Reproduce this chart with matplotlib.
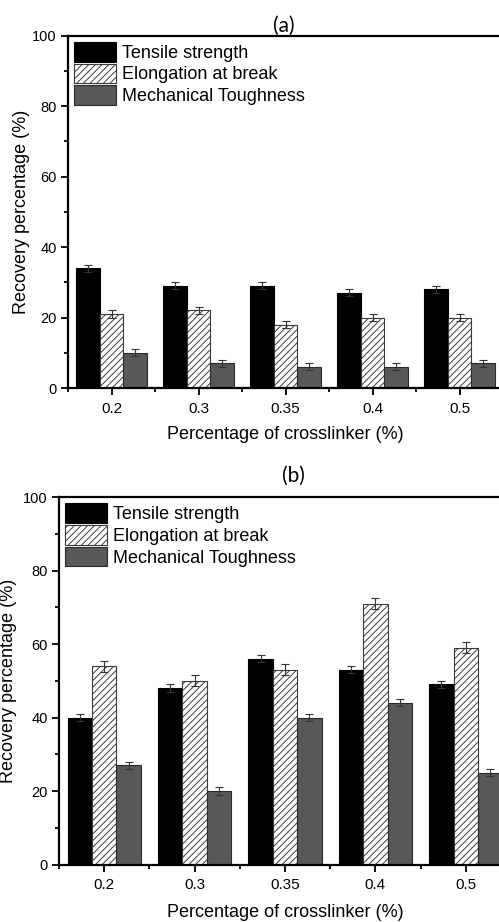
import numpy as np
import matplotlib
matplotlib.use("Agg")
import matplotlib.pyplot as plt
from matplotlib.ticker import MultipleLocator, FixedLocator

plt.rcParams['font.family'] = ['Liberation Sans', 'DejaVu Sans']
plt.rcParams['hatch.linewidth'] = 0.7

categories = ["0.2", "0.3", "0.35", "0.4", "0.5"]
series_names = ["Tensile strength", "Elongation at break", "Mechanical Toughness"]

# panel (a)
a_tensile = [34, 29, 29, 27, 28]
a_elong = [21, 22, 18, 20, 20]
a_tough = [10, 7, 6, 6, 7]
a_tensile_err = [1, 1, 1, 1, 1]
a_elong_err = [1, 1, 1, 1, 1]
a_tough_err = [1, 1, 1, 1, 1]

# panel (b)
b_tensile = [40, 48, 56, 53, 49]
b_elong = [54, 50, 53, 71, 59]
b_tough = [27, 20, 40, 44, 25]
b_tensile_err = [1, 1, 1, 1, 1]
b_elong_err = [1.5, 1.5, 1.5, 1.5, 1.5]
b_tough_err = [1, 1, 1, 1, 1]

W, H = 499, 922
fig = plt.figure(figsize=(W / 100, H / 100), dpi=100)


def px_axes(left, right, top, bottom):
    return fig.add_axes([left / W, 1 - bottom / H, (right - left) / W, (bottom - top) / H])


styles = [
    dict(color="black", edgecolor="black", linewidth=0.8),
    dict(color="white", edgecolor="#3a3a3a", hatch="/////", linewidth=0.8),
    dict(color="#585858", edgecolor="#2a2a2a", linewidth=0.8),
]


def draw_panel(ax, vals, errs, title, title_x, title_pad, ylab_x, xlab_y):
    x = np.arange(len(categories))
    w = 0.27
    handles = []
    for i, (v, e, st) in enumerate(zip(vals, errs, styles)):
        b = ax.bar(x + (i - 1) * w, v, width=w, yerr=e, capsize=2.6,
                   error_kw=dict(elinewidth=0.8, capthick=0.8, ecolor="#333333"),
                   label=series_names[i], zorder=2, **st)
        handles.append(b)
    ax.set_xlim(-0.5, 4.5)
    ax.set_ylim(0, 100)
    ax.set_xticks(x)
    ax.set_xticklabels(categories, fontsize=11)
    ax.xaxis.set_minor_locator(FixedLocator(np.arange(-0.5, 5, 1.0)))
    ax.yaxis.set_major_locator(MultipleLocator(20))
    ax.yaxis.set_minor_locator(MultipleLocator(10))
    ax.tick_params(axis='y', labelsize=10.5, pad=3)
    ax.tick_params(axis='x', pad=5)
    ax.tick_params(which='major', direction='out', length=5, width=1.3)
    ax.tick_params(which='minor', direction='out', length=3, width=1.3)
    for s in ['left', 'bottom', 'top', 'right']:
        ax.spines[s].set_linewidth(1.6)
    ax.set_xlabel("Percentage of crosslinker (%)", fontsize=13)
    ax.set_ylabel("Recovery percentage (%)", fontsize=13)
    ax.yaxis.set_label_coords(ylab_x, 0.5)
    ax.xaxis.set_label_coords(0.5, xlab_y)
    ax.set_title(title, fontsize=15, x=title_x, pad=title_pad, family=['Lato', 'DejaVu Sans'])
    ax.legend(handles=handles, loc='upper left', frameon=False, fontsize=13,
              handlelength=2.3, handleheight=1.3, labelspacing=0.1,
              handletextpad=0.35, borderaxespad=0.25, borderpad=0.1)


ax1 = px_axes(68, 503, 35.5, 388)
draw_panel(ax1, [a_tensile, a_elong, a_tough], [a_tensile_err, a_elong_err, a_tough_err],
           "(a)", 0.496, 2, -0.087, -0.108)

ax2 = px_axes(59, 511, 497, 864.5)
draw_panel(ax2, [b_tensile, b_elong, b_tough], [b_tensile_err, b_elong_err, b_tough_err],
           "(b)", 0.519, 11, -0.092, -0.108)

fig.savefig("out.png", dpi=100)
